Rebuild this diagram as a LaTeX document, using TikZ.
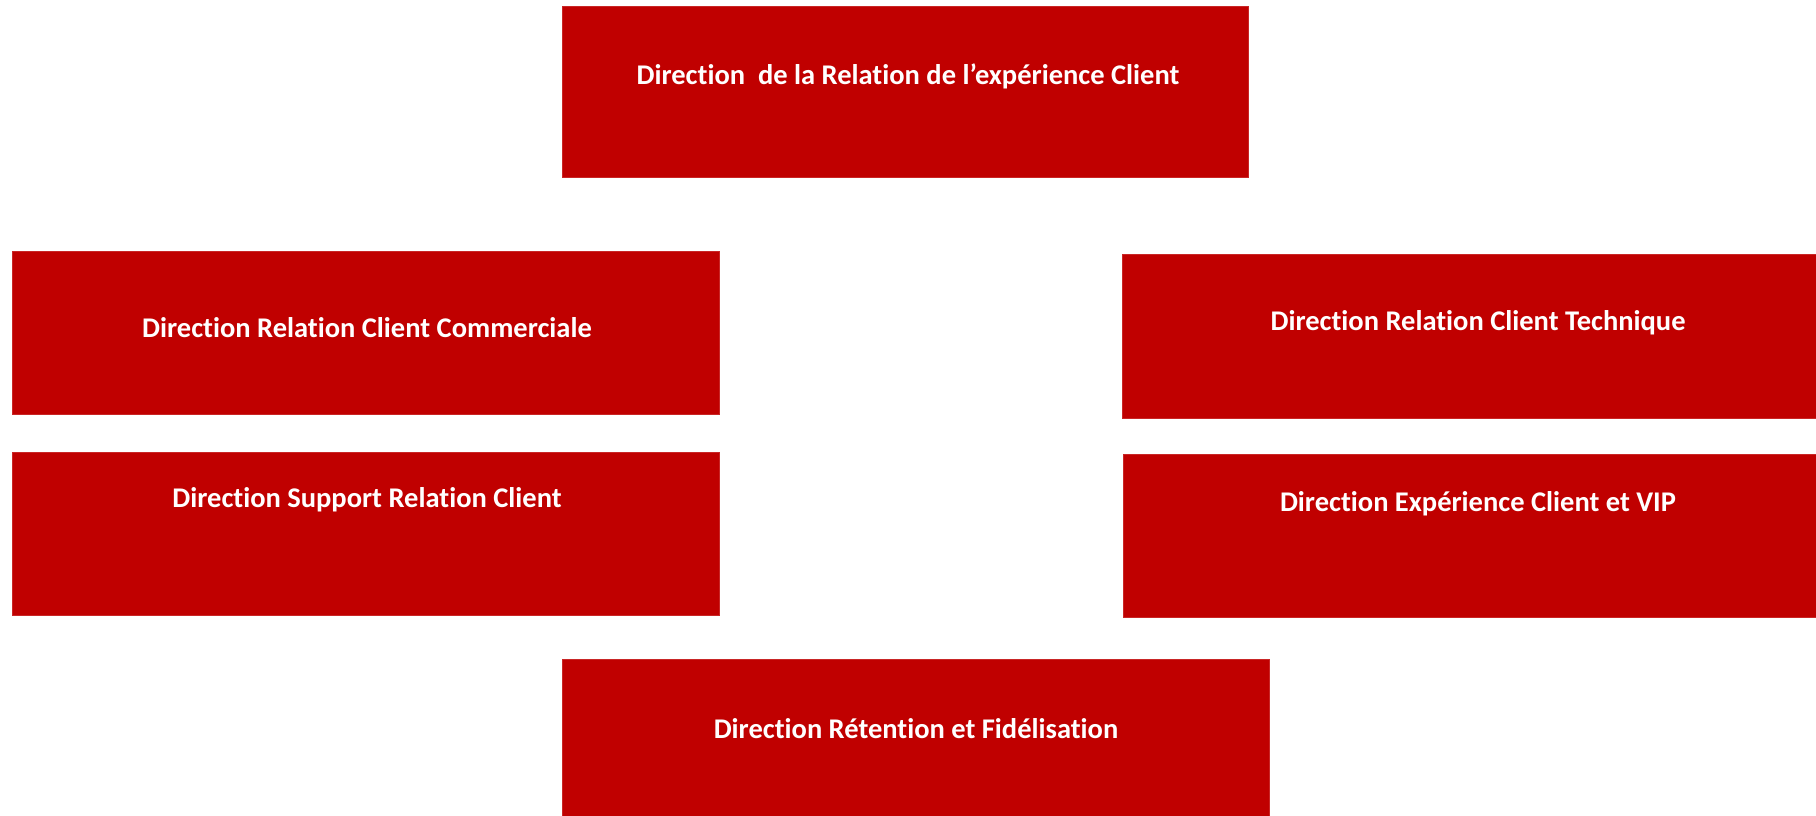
\documentclass[tikz,border=0pt]{standalone}
\usepackage{fontspec}
\setmainfont{Carlito}[Ligatures=CommonOff]
\usepackage{xcolor}
\definecolor{dred}{HTML}{C00000}

\begin{document}
\begin{tikzpicture}[x=1pt,y=-1pt,
  box/.style={fill=dred, draw=dred!85!white, line width=0.8pt, anchor=north west, inner sep=0pt},
  lbl/.style={text=white, font=\bfseries\fontsize{28.5}{32}\selectfont, inner sep=0pt}]
  \useasboundingbox (0,0) rectangle (1816,816);
  % boxes
  \node[box, minimum width=686pt, minimum height=171pt] (top) at (562,6) {};
  \node[box, minimum width=707pt, minimum height=163pt] (comm) at (12,251) {};
  \node[box, minimum width=707pt, minimum height=163pt] (supp) at (12,452) {};
  \node[box, minimum width=694pt, minimum height=164pt] (tech) at (1122,254) {};
  \node[box, minimum width=693pt, minimum height=163pt] (vip) at (1123,454) {};
  \node[box, minimum width=707pt, minimum height=158pt] (ret) at (562,659) {};
  % texts
  \node[lbl] (ttop) at (908,76) {Direction\ \ de la Relation de l’expérience Client};
  \node[lbl] (tcomm) at (367,328) {Direction Relation Client Commerciale};
  \node[lbl] (tsupp) at (367,500) {Direction Support Relation Client};
  \node[lbl] (ttech) at (1478,323) {Direction Relation Client Technique};
  \node[lbl] (tvip) at (1478,504) {Direction Expérience Client et VIP};
  \node[lbl] (tret) at (916,729) {Direction Rétention et Fidélisation};
\end{tikzpicture}
\end{document}
